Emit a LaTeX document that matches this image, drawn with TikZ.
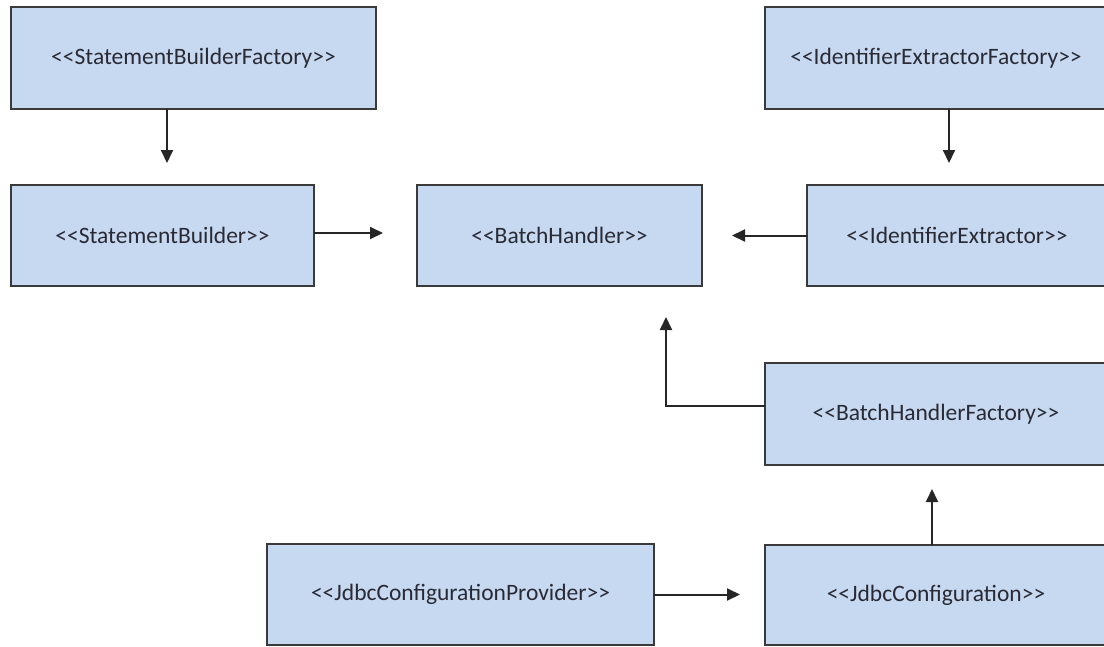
\documentclass[tikz,border=0pt]{standalone}
\usepackage{fontspec}
\newfontfamily\boxfont{Carlito}
\usetikzlibrary{arrows.meta,calc}
\definecolor{boxfill}{HTML}{C6D9F0}
\definecolor{boxline}{HTML}{3A3A3A}
\definecolor{txt}{HTML}{2A2A35}
\tikzset{
  umlbox/.style={draw=boxline, fill=boxfill, line width=2.2pt, inner sep=0pt, outer sep=0pt,
    text=txt, font=\boxfont\fontsize{23.5}{28}\selectfont},
  arr/.style={draw=black!85, line width=2pt, -{Triangle[length=13pt,width=12pt]}}
}
\begin{document}
\begin{tikzpicture}[x=1pt,y=-1pt]
\useasboundingbox (0,0) rectangle (1104,646);
\clip (0,0) rectangle (1104,646);
\fill[white] (0,0) rectangle (1104,646);
% boxes (pixel coordinates, y downwards)
\node[umlbox, minimum width=365pt, minimum height=102pt] (sbf) at (193.5,58) {<\kern0pt<StatementBuilderFactory>\kern0pt>};
\node[umlbox, minimum width=303pt, minimum height=101pt] (sb) at (162.5,235.5) {<\kern0pt<StatementBuilder>\kern0pt>};
\node[umlbox, minimum width=285pt, minimum height=101pt] (bh) at (559.5,235.5) {<\kern0pt<BatchHandler>\kern0pt>};
\node[umlbox, minimum width=342pt, minimum height=102pt] (ief) at (936,58) {<\kern0pt<IdentifierExtractorFactory>\kern0pt>};
\node[umlbox, minimum width=300pt, minimum height=101pt] (ie) at (957,235.5) {<\kern0pt<IdentifierExtractor>\kern0pt>};
\node[umlbox, minimum width=342pt, minimum height=102pt] (bhf) at (936,414) {<\kern0pt<BatchHandlerFactory>\kern0pt>};
\node[umlbox, minimum width=387pt, minimum height=101pt] (jcp) at (460.5,594.5) {<\kern0pt<JdbcConfigurationProvider>\kern0pt>};
\node[umlbox, minimum width=342pt, minimum height=100pt] (jc) at (936,595) {<\kern0pt<JdbcConfiguration>\kern0pt>};
% connectors
\draw[arr, shorten >=22pt] ([xshift=4.5pt]sb.north |- sbf.south) -- ([xshift=4.5pt]sb.north);
\draw[arr, shorten >=22pt] ([xshift=13pt]ief.south) -- ([xshift=13pt]ief.south |- ie.north);
\draw[arr, shorten >=34pt] ([yshift=2.5pt]sb.east) -- ([yshift=2.5pt]sb.east -| bh.west);
\draw[arr, shorten >=30pt] (ie.west) -- (ie.west -| bh.east);
\coordinate (bend) at (666,406);
\draw[arr, shorten >=31pt] (bend -| bhf.west) -- (bend) -- (bend |- bh.south);
\draw[arr, shorten >=24pt] ([xshift=-4pt]jc.north) -- ([xshift=-4pt]jc.north |- bhf.south);
\draw[arr, shorten >=25pt] (jcp.east) -- (jcp.east -| jc.west);
\end{tikzpicture}
\end{document}
